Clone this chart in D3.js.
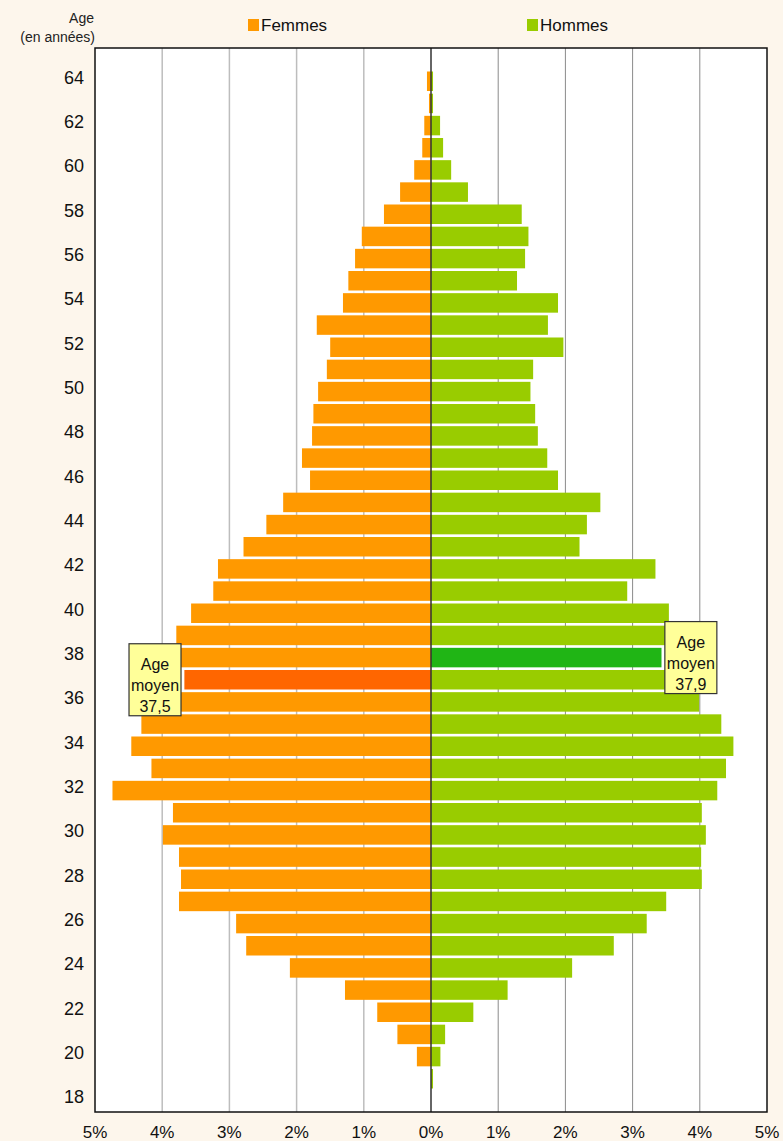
<!DOCTYPE html>
<html>
<head>
<meta charset="utf-8">
<script src="https://cdn.jsdelivr.net/npm/d3@7"></script>
<style>
  body { margin: 0; background: #fdf6ec; }
  svg { display: block; font-family: "Liberation Sans", Arial, sans-serif; }
</style>
</head>
<body>
<div id="chart"></div>
<script>
// data: share of population by age (%), ages 18..64
const ages = d3.range(18, 65);
const femmes = [0, 0, 0.21, 0.50, 0.80, 1.28, 2.10, 2.75, 2.90, 3.75,
  3.72, 3.75, 3.99, 3.84, 4.74, 4.16, 4.46, 4.31, 3.75, 3.67,
  3.75, 3.79, 3.57, 3.24, 3.17, 2.79, 2.45, 2.20, 1.80, 1.92,
  1.77, 1.75, 1.68, 1.55, 1.50, 1.70, 1.31, 1.23, 1.13, 1.03,
  0.70, 0.46, 0.25, 0.13, 0.10, 0.03, 0.06];
const hommes = [0, 0.03, 0.14, 0.21, 0.63, 1.14, 2.10, 2.72, 3.21, 3.50,
  4.03, 4.02, 4.09, 4.03, 4.26, 4.39, 4.50, 4.32, 3.99, 3.75,
  3.43, 3.70, 3.54, 2.92, 3.34, 2.21, 2.32, 2.52, 1.89, 1.73,
  1.59, 1.55, 1.48, 1.52, 1.97, 1.74, 1.89, 1.28, 1.40, 1.45,
  1.35, 0.55, 0.30, 0.18, 0.135, 0.03, 0.03];
const xTicks = [0, 1, 2, 3, 4, 5];
const ageTicks = d3.range(18, 65, 2);
const ageMoyenF = { label: "37,5", age: 37 };
const ageMoyenH = { label: "37,9", age: 38 };

const W = 783, H = 1141;
const pLeft = 95, pRight = 767, pTop = 48, pBottom = 1112;
const mid = (pLeft + pRight) / 2;
const step = (pBottom - pTop) / 48;

const svg = d3.select("#chart").append("svg")
  .attr("width", W).attr("height", H);

svg.append("rect").attr("width", W).attr("height", H).attr("fill", "#fdf6ec");

const xF = d3.scaleLinear().domain([0, 5]).range([mid, pLeft]);
const xH = d3.scaleLinear().domain([0, 5]).range([mid, pRight]);
const y = d3.scaleBand().domain(ages.slice().reverse())
  .range([pTop + step, pBottom]).paddingInner(0.12).paddingOuter(0.06);

// plot area
svg.append("rect")
  .attr("x", pLeft).attr("y", pTop)
  .attr("width", pRight - pLeft).attr("height", pBottom - pTop)
  .attr("fill", "#fff");

// gridlines
svg.append("g").selectAll("line").data(xTicks.slice(1, 5)).join("line")
  .attr("x1", d => xF(d)).attr("x2", d => xF(d))
  .attr("y1", pTop).attr("y2", pBottom)
  .attr("stroke", "#bdbdbd").attr("stroke-width", 1.5);
svg.append("g").selectAll("line").data(xTicks.slice(1, 5)).join("line")
  .attr("x1", d => xH(d)).attr("x2", d => xH(d))
  .attr("y1", pTop).attr("y2", pBottom)
  .attr("stroke", "#8a8a8a").attr("stroke-width", 1);

// bars
const rows = ages.map((a, i) => ({ age: a, f: femmes[i], h: hommes[i] }));

svg.append("g").selectAll("rect").data(rows).join("rect")
  .attr("x", d => xF(d.f)).attr("y", d => y(d.age))
  .attr("width", d => mid - xF(d.f)).attr("height", y.bandwidth())
  .attr("fill", d => d.age === ageMoyenF.age ? "#ff6600" : "#ff9900");

svg.append("g").selectAll("rect").data(rows).join("rect")
  .attr("x", mid).attr("y", d => y(d.age))
  .attr("width", d => xH(d.h) - mid).attr("height", y.bandwidth())
  .attr("fill", d => d.age === ageMoyenH.age ? "#20b515" : "#99cc00");

// zero line
svg.append("line")
  .attr("x1", mid).attr("x2", mid).attr("y1", pTop).attr("y2", pBottom)
  .attr("stroke", "#333").attr("stroke-width", 1.5);

// frame
svg.append("rect")
  .attr("x", pLeft).attr("y", pTop)
  .attr("width", pRight - pLeft).attr("height", pBottom - pTop)
  .attr("fill", "none").attr("stroke", "#111").attr("stroke-width", 1.5);

// x labels
const xLab = svg.append("g").attr("font-size", 17).attr("fill", "#111")
  .attr("text-anchor", "middle");
xTicks.forEach(t => {
  xLab.append("text").attr("x", xF(t)).attr("y", 1138).text(t + "%");
  if (t > 0) xLab.append("text").attr("x", xH(t)).attr("y", 1138).text(t + "%");
});

// y labels
svg.append("g").selectAll("text").data(ageTicks).join("text")
  .attr("x", 84).attr("y", d => y(d) + y.bandwidth() / 2 - 4)
  .attr("dy", "0.35em").attr("text-anchor", "end")
  .attr("font-size", 18).attr("fill", "#111")
  .text(d => d);

svg.append("text").attr("x", 94).attr("y", 23).attr("text-anchor", "end")
  .attr("font-size", 14).attr("fill", "#222").text("Age");
svg.append("text").attr("x", 95).attr("y", 42).attr("text-anchor", "end")
  .attr("font-size", 14).attr("fill", "#222").text("(en années)");

// legend
const legend = [
  { name: "Femmes", color: "#ff9900", x: 248 },
  { name: "Hommes", color: "#99cc00", x: 527 }
];
legend.forEach(l => {
  svg.append("rect").attr("x", l.x).attr("y", 19).attr("width", 11).attr("height", 12)
    .attr("fill", l.color);
  svg.append("text").attr("x", l.x + 13).attr("y", 31)
    .attr("font-size", 17).attr("fill", "#111").text(l.name);
});

// callouts
function callout(x0, age, label) {
  const cy = y(age) + y.bandwidth() / 2;
  const g = svg.append("g");
  g.append("rect").attr("x", x0).attr("y", cy - 36)
    .attr("width", 52).attr("height", 72)
    .attr("fill", "#ffff99").attr("stroke", "#333").attr("stroke-width", 1.2);
  ["Age", "moyen", label].forEach((t, i) => {
    g.append("text").attr("x", x0 + 26).attr("y", cy - 15 + i * 21)
      .attr("dy", "0.35em").attr("text-anchor", "middle")
      .attr("font-size", 16).attr("fill", "#111").text(t);
  });
}
callout(xF(3.72) - 52, ageMoyenF.age, ageMoyenF.label);
callout(xH(3.48), ageMoyenH.age, ageMoyenH.label);
</script>
</body>
</html>
